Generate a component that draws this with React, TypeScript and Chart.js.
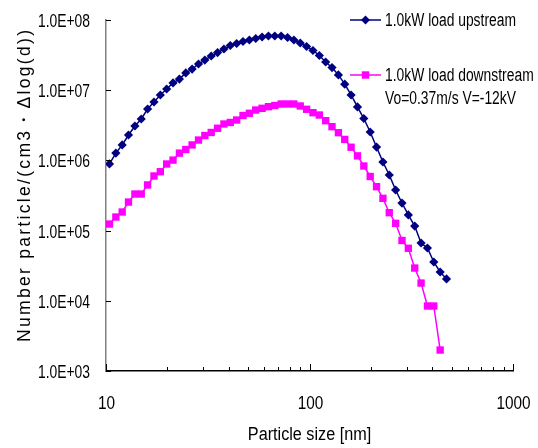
import React, { useEffect, useRef } from 'react';
import { Chart, registerables } from 'chart.js';

Chart.register(...registerables);

// Particle sizes [nm]
const particleSizes = [
  10.4, 11.18, 12.01, 12.9, 13.87, 14.9, 16.01, 17.21, 18.49, 19.87,
  21.35, 22.95, 24.66, 26.5, 28.48, 30.6, 32.89, 35.34, 37.98, 40.81,
  43.86, 47.13, 50.64, 54.42, 58.48, 62.84, 67.53, 72.57, 77.99, 83.81,
  90.06, 96.78, 104.0, 111.8, 120.1, 129.0, 138.7, 149.0, 160.1, 172.1,
  184.9, 198.7, 213.5, 229.5, 246.6, 265.0, 284.8, 306.0, 328.9, 353.4,
  379.8, 408.1, 438.6, 471.3,
];

// 1.0kW load upstream
const upstream = [
  8.9e5, 1.27e6, 1.66e6, 2.3e6, 3.09e6, 3.89e6, 5.4e6, 6.79e6, 8.55e6, 1.04e7,
  1.27e7, 1.44e7, 1.76e7, 2.0e7, 2.36e7, 2.69e7, 3.07e7, 3.44e7, 3.86e7, 4.33e7,
  4.63e7, 4.94e7, 5.19e7, 5.45e7, 5.73e7, 5.92e7, 5.92e7, 5.92e7, 5.63e7, 5.19e7,
  4.7e7, 4.19e7, 3.68e7, 3.12e7, 2.52e7, 2.1e7, 1.65e7, 1.22e7, 8.55e6, 5.77e6,
  3.95e6, 2.54e6, 1.55e6, 9.49e5, 6.19e5, 3.79e5, 2.47e5, 1.67e5, 1.16e5, 6.66e4,
  5.65e4, 3.57e4, 2.57e4, 2.05e4,
];

// 1.0kW load downstream (Vo=0.37m/s V=-12kV)
const downstream = [
  1.24e5, 1.56e5, 1.84e5, 2.55e5, 3.32e5, 3.32e5, 4.47e5, 6.0e5, 6.9e5, 8.89e5,
  1.01e6, 1.27e6, 1.43e6, 1.66e6, 1.95e6, 2.26e6, 2.5e6, 2.87e6, 3.3e6, 3.47e6,
  3.76e6, 4.36e6, 4.69e6, 5.22e6, 5.52e6, 5.82e6, 6.05e6, 6.36e6, 6.36e6, 6.36e6,
  5.96e6, 5.35e6, 4.78e6, 4.43e6, 3.68e6, 3.02e6, 2.48e6, 1.99e6, 1.54e6, 1.16e6,
  8.32e5, 5.9e5, 4.22e5, 2.88e5, 1.8e5, 1.27e5, 7.23e4, 5.6e4, 2.93e4, 1.79e4,
  8.43e3, 8.43e3, 1.99e3,
];

const xTickValues = [10, 100, 1000];
const xTickLabels = ['10', '100', '1000'];
const xMinorTicks = [20, 30, 40, 50, 60, 70, 80, 90, 200, 300, 400, 500, 600, 700, 800, 900];
const yTickValues = [1e3, 1e4, 1e5, 1e6, 1e7, 1e8];
const yTickLabels = ['1.0E+03', '1.0E+04', '1.0E+05', '1.0E+06', '1.0E+07', '1.0E+08'];

const seriesNames = ['1.0kW load upstream', '1.0kW load downstream'];
const legendNote = 'Vo=0.37m/s V=-12kV';
const xTitle = 'Particle size [nm]';
const yTitle = 'Number particle/(cm3・Δlog(d))';

const NAVY = '#000080';
const MAGENTA = '#FF00FF';
const FONT = "'Liberation Sans', Arial, sans-serif";

function drawText(
  ctx: CanvasRenderingContext2D,
  text: string,
  x: number,
  y: number,
  size: number,
  sx: number,
  align: CanvasTextAlign,
) {
  ctx.save();
  ctx.translate(x, y);
  ctx.scale(sx, 1);
  ctx.font = `${size}px ${FONT}`;
  ctx.textAlign = align;
  ctx.textBaseline = 'middle';
  ctx.fillStyle = '#000';
  ctx.fillText(text, 0, 0);
  ctx.restore();
}

const decorPlugin = {
  id: 'decor',
  afterDraw(chart: any) {
    const ctx = chart.ctx as CanvasRenderingContext2D;
    const xs = chart.scales.x;
    const ys = chart.scales.y;
    const { left, bottom } = chart.chartArea;
    ctx.save();
    ctx.strokeStyle = '#000';
    ctx.lineWidth = 1;
    // y ticks (inward) and labels
    yTickValues.forEach((v, i) => {
      const y = Math.round(ys.getPixelForValue(v)) + 0.5;
      ctx.beginPath();
      ctx.moveTo(left, y);
      ctx.lineTo(left + 5, y);
      ctx.stroke();
      drawText(ctx, yTickLabels[i], left - 16, y + 1, 18.5, 0.75, 'right');
    });
    // x ticks (inward) and labels
    xTickValues.forEach((v, i) => {
      const x = Math.round(xs.getPixelForValue(v)) + 0.5;
      ctx.beginPath();
      ctx.moveTo(x, bottom);
      ctx.lineTo(x, bottom - 7);
      ctx.stroke();
      drawText(ctx, xTickLabels[i], x, bottom + 33, 18.5, 0.83, 'center');
    });
    xMinorTicks.forEach((v) => {
      const x = Math.round(xs.getPixelForValue(v)) + 0.5;
      ctx.beginPath();
      ctx.moveTo(x, bottom);
      ctx.lineTo(x, bottom - 4);
      ctx.stroke();
    });
    ctx.restore();

    // x title
    drawText(ctx, xTitle, (chart.chartArea.left + chart.chartArea.right) / 2, 435, 18, 0.9, 'center');

    // y title
    ctx.save();
    ctx.fillStyle = '#000';
    ctx.font = `17.5px ${FONT}`;
    (ctx as any).letterSpacing = '0px';
    const w0 = ctx.measureText(yTitle).width;
    const n = Array.from(yTitle).length;
    const spacing = Math.max(0, (312 - w0) / (n - 1));
    (ctx as any).letterSpacing = `${spacing.toFixed(2)}px`;
    ctx.textAlign = 'center';
    ctx.textBaseline = 'middle';
    ctx.translate(25, 186);
    ctx.rotate(-Math.PI / 2);
    ctx.fillText(yTitle, spacing / 2, 0);
    ctx.restore();

    // legend
    ctx.save();
    const drawEntry = (y: number, color: string, style: string, r: number) => {
      ctx.strokeStyle = color;
      ctx.fillStyle = color;
      ctx.lineWidth = 1.5;
      ctx.beginPath();
      ctx.moveTo(350, y);
      ctx.lineTo(381, y);
      ctx.stroke();
      ctx.beginPath();
      if (style === 'diamond') {
        ctx.moveTo(365.5 - r, y);
        ctx.lineTo(365.5, y - r);
        ctx.lineTo(365.5 + r, y);
        ctx.lineTo(365.5, y + r);
        ctx.closePath();
      } else {
        ctx.rect(365.5 - r, y - r, 2 * r, 2 * r);
      }
      ctx.fill();
    };
    drawEntry(20, NAVY, 'diamond', 4.5);
    drawEntry(75, MAGENTA, 'square', 3.7);
    ctx.restore();
    drawText(ctx, seriesNames[0], 385, 21, 18, 0.77, 'left');
    drawText(ctx, seriesNames[1], 385, 76, 18, 0.77, 'left');
    drawText(ctx, legendNote, 385, 99, 18, 0.77, 'left');
  },
};

export default function App() {
  const canvasRef = useRef<HTMLCanvasElement | null>(null);

  useEffect(() => {
    if (!canvasRef.current) return;
    const chart = new Chart(canvasRef.current, {
      type: 'line',
      data: {
        datasets: [
          {
            label: seriesNames[0],
            data: upstream.map((v, i) => ({ x: particleSizes[i], y: v })),
            borderColor: NAVY,
            backgroundColor: NAVY,
            borderWidth: 1.5,
            pointStyle: 'rectRot',
            pointRadius: 4.6,
            pointBorderWidth: 0,
            tension: 0,
          },
          {
            label: seriesNames[1],
            data: downstream.map((v, i) => ({ x: particleSizes[i], y: v })),
            borderColor: MAGENTA,
            backgroundColor: MAGENTA,
            borderWidth: 1.5,
            pointStyle: 'rect',
            pointRadius: 5.2,
            pointBorderWidth: 0,
            tension: 0,
          },
        ],
      },
      options: {
        responsive: false,
        animation: false,
        parsing: false,
        layout: { padding: { top: 20, right: 25, left: 0, bottom: 0 } },
        plugins: {
          legend: { display: false },
          tooltip: { enabled: false },
          title: { display: false },
        },
        scales: {
          x: {
            type: 'logarithmic',
            min: 10,
            max: 1000,
            grid: { display: false, drawTicks: false },
            border: { display: true, color: '#000', width: 1.5 },
            afterBuildTicks: (scale: any) => {
              scale.ticks = xTickValues.map((v) => ({ value: v }));
            },
            afterFit: (scale: any) => {
              scale.height = 77;
              scale.paddingLeft = 0;
              scale.paddingRight = 0;
              scale.paddingTop = 0;
              scale.paddingBottom = 0;
            },
            ticks: { display: false },
          },
          y: {
            type: 'logarithmic',
            min: 1e3,
            max: 1e8,
            grid: { display: false, drawTicks: false },
            border: { display: true, color: '#808080', width: 1.5 },
            afterBuildTicks: (scale: any) => {
              scale.ticks = yTickValues.map((v) => ({ value: v }));
            },
            afterFit: (scale: any) => {
              scale.width = 106;
              scale.paddingLeft = 0;
              scale.paddingRight = 0;
              scale.paddingTop = 0;
              scale.paddingBottom = 0;
            },
            ticks: { display: false },
          },
        },
      },
      plugins: [decorPlugin],
    });
    return () => chart.destroy();
  }, []);

  return (
    <div style={{ position: 'absolute', left: 0, top: 0, width: 538, height: 448, background: '#fff' }}>
      <canvas ref={canvasRef} width={538} height={448} style={{ display: 'block' }} />
    </div>
  );
}
